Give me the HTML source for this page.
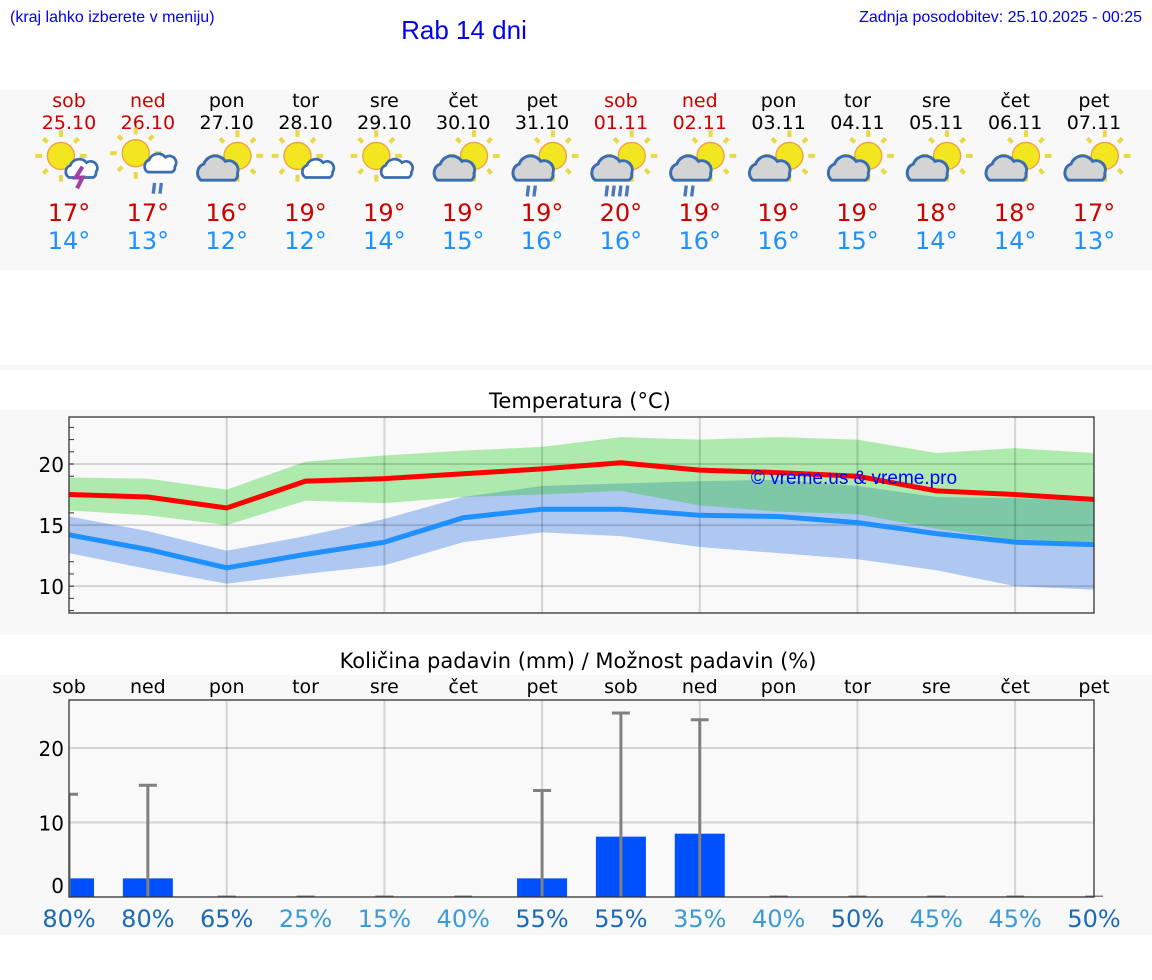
<!DOCTYPE html>
<html><head><meta charset="utf-8"><style>
body{margin:0;background:#fff;width:1152px;height:975px;overflow:hidden}
svg text{font-family:"DejaVu Sans","Liberation Sans",sans-serif}
</style></head><body>
<svg id="s" width="1152" height="975" xmlns="http://www.w3.org/2000/svg">
<defs>
<g id="sun"><g stroke="#e8d84a" stroke-width="3"><line x1="0" y1="-19" x2="0" y2="-14"/><line x1="0" y1="19" x2="0" y2="14"/><line x1="-19" y1="0" x2="-14" y2="0"/><line x1="19" y1="0" x2="14" y2="0"/><line x1="13" y1="13" x2="10" y2="10"/><line x1="-13" y1="-13" x2="-10" y2="-10"/><line x1="13" y1="-13" x2="10" y2="-10"/><line x1="-13" y1="13" x2="-10" y2="10"/></g><circle r="10" fill="#f2e620" stroke="#f0a040" stroke-width="1"/></g>
<path id="cloud" d="M-14,8 a7,7 0 0 1 2,-12 a9,9 0 0 1 16,-2 a7,7 0 0 1 9,9 a5,5 0 0 1 -2,5 z" fill="#d4d4d4" stroke="#3a6db0" stroke-width="2.2"/>
<path id="cloudw" d="M-10,6 a5,5 0 0 1 1,-9 a7,7 0 0 1 12,-2 a5,5 0 0 1 7,7 a4,4 0 0 1 -2,4 z" fill="#fff" stroke="#3a6db0" stroke-width="2"/>
</defs>
<text x="10" y="22" font-size="16" fill="#0000ee" style="font-family:'Liberation Sans',sans-serif">(kraj lahko izberete v meniju)</text>
<text x="464" y="39" font-size="26" fill="#0000ee" text-anchor="middle" style="font-family:'Liberation Sans',sans-serif">Rab 14 dni</text>
<text x="1142" y="22" font-size="16" fill="#0000ee" text-anchor="end" style="font-family:'Liberation Sans',sans-serif">Zadnja posodobitev: 25.10.2025 - 00:25</text>
<rect x="0" y="90" width="1152" height="180" fill="#f8f8f8"/>
<rect x="0" y="365" width="1152" height="5" fill="#f6f6f6"/>
<rect x="0" y="410" width="1152" height="225" fill="#f8f8f8"/>
<rect x="0" y="675" width="1152" height="260" fill="#f8f8f8"/>
<g id="hdr"></g>
<text x="580" y="408" font-size="21" text-anchor="middle" fill="#000">Temperatura (°C)</text>
<g id="tchart"></g>
<text x="578" y="668" font-size="21" text-anchor="middle" fill="#000">Količina padavin (mm) / Možnost padavin (%)</text>
<g id="pchart"></g>
</svg>
<script>
const days=["sob","ned","pon","tor","sre","čet","pet","sob","ned","pon","tor","sre","čet","pet"];
const dates=["25.10","26.10","27.10","28.10","29.10","30.10","31.10","01.11","02.11","03.11","04.11","05.11","06.11","07.11"];
const weekend=[1,1,0,0,0,0,0,1,1,0,0,0,0,0];
const icons=["storm","rain-sun","cloud-sun","sun-cloud","sun-cloud","cloud-sun","rain2","rain4","rain2","cloud-sun","cloud-sun","cloud-sun","cloud-sun","cloud-sun"];
const hiTemps=[17,17,16,19,19,19,19,20,19,19,19,18,18,17];
const loTemps=[14,13,12,12,14,15,16,16,16,16,15,14,14,13];
const maxLine=[17.5,17.3,16.4,18.6,18.8,19.2,19.6,20.1,19.5,19.3,19.0,17.8,17.5,17.1];
const maxBandHi=[18.9,18.8,17.9,20.2,20.7,21.1,21.4,22.2,22.0,22.2,22.0,20.9,21.3,20.9];
const maxBandLo=[16.2,15.8,15.0,17.0,16.8,17.3,17.5,17.8,16.6,16.1,15.9,14.7,13.8,13.5];
const minLine=[14.2,13.0,11.5,12.6,13.6,15.6,16.3,16.3,15.8,15.7,15.2,14.3,13.6,13.4];
const minBandHi=[15.7,14.5,12.9,14.1,15.5,17.3,18.2,18.4,18.6,18.7,18.2,17.3,17.2,17.0];
const minBandLo=[12.7,11.4,10.2,11.0,11.7,13.6,14.4,14.1,13.2,12.7,12.2,11.3,10.0,9.7];
const tTicks=[10,15,20];
const precip=[2.5,2.5,0,0,0,0,2.5,8.1,8.5,0,0,0,0,0];
const precipMax=[13.8,15,0,0,0,0,14.3,24.7,23.8,0,0,0,0,0];
const chance=[80,80,65,25,15,40,55,55,35,40,50,45,45,50];
const pTicks=[0,10,20];

const NS="http://www.w3.org/2000/svg";
function mk(tag,attrs,parent,txt){const e=document.createElementNS(NS,tag);for(const k in attrs)e.setAttribute(k,attrs[k]);if(txt!==undefined)e.textContent=txt;parent.appendChild(e);return e;}
const X0=69,X1=1094;
const xd=i=>X0+i*(X1-X0)/13;

// header
const hdr=document.getElementById('hdr');
days.forEach((d,i)=>{
  const x=xd(i);const col=weekend[i]?"#cc0000":"#000";
  const g=mk('g',{},hdr);
  
  
  const t1=mk('text',{x:x,y:107,'font-size':19,'text-anchor':'middle',fill:col},g,d);
  
  
  const t2=mk('text',{x:x,y:129,'font-size':19,'text-anchor':'middle',fill:col},g,dates[i]);
  
  
  const ic=mk('g',{transform:`translate(${x},164) scale(1.35)`},g);
  
  
  const t=icons[i];
  if(t==="storm"||t==="sun-cloud"){
    mk('use',{href:'#sun',x:-6,y:-6},ic);
    mk('use',{href:'#cloudw',x:10,y:4},ic);
    if(t==="storm")mk('path',{d:'M10,2 l-5,8 h5 l-4,8',stroke:'#a040a0','stroke-width':3,fill:'none'},ic);
  }else if(t==="rain-sun"){
    mk('use',{href:'#sun',x:-9,y:-8},ic);
    mk('use',{href:'#cloudw',x:10,y:0},ic);
    mk('path',{d:'M5,14 l-1,8 M10,14 l-1,8',stroke:'#4a78b8','stroke-width':2.5},ic);
  }else{
    mk('use',{href:'#sun',x:8,y:-6},ic);
    mk('use',{href:'#cloud',x:-5,y:4},ic);
    let n=t==="rain2"?2:t==="rain4"?4:0;
    for(let k=0;k<n;k++)mk('line',{x1:-10+k*5,y1:16,x2:-11+k*5,y2:24,stroke:'#4a78b8','stroke-width':2.5},ic);
  }
  const t3=mk('text',{x:x,y:221,'font-size':24,'text-anchor':'middle',fill:'#cc0000'},g,hiTemps[i]+'°');
  
  
  const t4=mk('text',{x:x,y:249,'font-size':24,'text-anchor':'middle',fill:'#1e90ff'},g,loTemps[i]+'°');
  
  
});

// temperature chart
const tc=document.getElementById('tchart');
const TY0=417,TY1=613,TMIN=7.8,TMAX=23.85;
const yt=v=>TY1-(v-TMIN)/(TMAX-TMIN)*(TY1-TY0);
mk('rect',{x:X0,y:TY0,width:X1-X0,height:TY1-TY0,fill:'#f9f9f9'},tc);
for(let v=8;v<=23;v++){mk('line',{x1:X0,x2:X0+5,y1:yt(v),y2:yt(v),stroke:'#333','stroke-width':1},tc);}
function band(hi,lo){let p=hi.map((v,i)=>xd(i)+','+yt(v));for(let i=lo.length-1;i>=0;i--)p.push(xd(i)+','+yt(lo[i]));return p.join(' ');}
const gb=mk('polygon',{points:band(maxBandHi,maxBandLo),fill:'#aeeaae'},tc);


const bb=mk('polygon',{points:band(minBandHi,minBandLo),fill:'#aec8f2'},tc);


const cp=mk('clipPath',{id:'bclip'},tc);mk('polygon',{points:band(minBandHi,minBandLo)},cp);
const ov=mk('polygon',{points:band(maxBandHi,maxBandLo),fill:'#7ec8a8','clip-path':'url(#bclip)'},tc);


tTicks.forEach(v=>{
  mk('line',{x1:X0,x2:X1,y1:yt(v),y2:yt(v),stroke:'rgba(0,0,0,0.15)','stroke-width':2},tc);
  const l=mk('text',{x:X0-5,y:yt(v)+8,'font-size':20,'text-anchor':'end',fill:'#000'},tc,v);
  
  
});
for(let i=2;i<14;i+=2)mk('line',{x1:xd(i),x2:xd(i),y1:TY0,y2:TY1,stroke:'rgba(0,0,0,0.15)','stroke-width':2},tc);
const ml=mk('polyline',{points:maxLine.map((v,i)=>xd(i)+','+yt(v)).join(' '),fill:'none',stroke:'#ff0000','stroke-width':5},tc);


const nl=mk('polyline',{points:minLine.map((v,i)=>xd(i)+','+yt(v)).join(' '),fill:'none',stroke:'#1e90ff','stroke-width':5},tc);


mk('rect',{x:X0,y:TY0,width:X1-X0,height:TY1-TY0,fill:'none',stroke:'#333','stroke-width':1.3},tc);
const wm=mk('text',{x:854,y:484,'font-size':19,'text-anchor':'middle',fill:'#0000ff',style:"font-family:'Liberation Sans',sans-serif"},tc,'© vreme.us & vreme.pro');



// precipitation chart
const pc=document.getElementById('pchart');
const PY0=700,PY1=897,PMAX=(PY1-PY0)/7.45;
const yp=v=>PY1-v/PMAX*(PY1-PY0);
mk('rect',{x:X0,y:PY0,width:X1-X0,height:PY1-PY0,fill:'#f9f9f9'},pc);
pTicks.forEach(v=>{
  if(v>0)mk('line',{x1:X0,x2:X1,y1:yp(v),y2:yp(v),stroke:'rgba(0,0,0,0.15)','stroke-width':2},pc);
  const l=mk('text',{x:X0-5,y:(v===0?yp(v)-4:yp(v)+8),'font-size':20,'text-anchor':'end',fill:'#000'},pc,v);
  
  
});
for(let i=2;i<14;i+=2)mk('line',{x1:xd(i),x2:xd(i),y1:PY0,y2:PY1,stroke:'rgba(0,0,0,0.15)','stroke-width':2},pc);
const pcl=mk('clipPath',{id:'pclip'},pc);mk('rect',{x:X0,y:PY0-20,width:X1-X0+20,height:PY1-PY0+20},pcl);
const pg=mk('g',{'clip-path':'url(#pclip)'},pc);
precip.forEach((v,i)=>{
  const x=xd(i);
  if(v>0){const b=mk('rect',{x:x-25,y:yp(v),width:50,height:PY1-yp(v),fill:'#0050ff'},pg);
    
    }
  const m=precipMax[i];
  if(m>0)mk('line',{x1:x,x2:x,y1:yp(m),y2:PY1,stroke:'#808080','stroke-width':3},pg);
  const cap=mk('line',{x1:x-9,x2:x+9,y1:yp(m),y2:yp(m),stroke:'#808080','stroke-width':3},pg);
  
  
});
mk('rect',{x:X0,y:PY0,width:X1-X0,height:PY1-PY0,fill:'none',stroke:'#333','stroke-width':1.3},pc);
days.forEach((d,i)=>{
  const l=mk('text',{x:xd(i),y:693,'font-size':19,'text-anchor':'middle',fill:'#000'},pc,d);
  
  
  const c=mk('text',{x:xd(i),y:927,'font-size':24,'text-anchor':'middle',fill:chance[i]>=50?'#1a6ab8':'#3a9ad8'},pc,chance[i]+'%');
  
  
});
</script>
</body></html>
